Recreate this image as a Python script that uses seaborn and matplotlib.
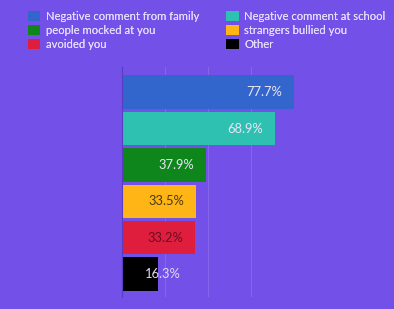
import matplotlib
matplotlib.use("Agg")
import matplotlib.pyplot as plt
import matplotlib.transforms as mtransforms
from matplotlib.patches import Patch
import seaborn as sns
import pandas as pd

categories = ["Negative comment from family", "Negative comment at school",
              "people mocked at you", "strangers bullied you", "avoided you", "Other"]
values = [77.7, 68.9, 37.9, 33.5, 33.2, 16.3]
labels = ["77.7%", "68.9%", "37.9%", "33.5%", "33.2%", "16.3%"]
colors = ["#3366CC", "#2EC1B2", "#0E861C", "#FFB515", "#DE1E3C", "#000000"]
label_colors = ["#E8E6F6", "#E8E6F6", "#E8E6F6", "#4A3A10", "#6A0E26", "#E0DCF2"]

BG = "#7350E8"

sns.set_theme(style="white")
plt.rcParams['font.family'] = ['Lato', 'DejaVu Sans']

df = pd.DataFrame({"category": categories, "value": values})

fig = plt.figure(figsize=(3.94, 3.09), dpi=100, facecolor=BG)
ax = fig.add_axes([0.309, 0.039, 0.438, 0.744])
ax.set_facecolor(BG)

sns.barplot(data=df, x="value", y="category", hue="category", palette=colors,
            order=categories, hue_order=categories, legend=False, width=0.92,
            saturation=1, ax=ax, orient="h", edgecolor="none", linewidth=0)

ax.set_xlim(0, 77.7)
ax.set_ylim(5.63, -0.69)
ax.set_xticks([77.7 / 4 * i for i in range(1, 5)])
ax.xaxis.grid(True, color="#8466EE", linewidth=0.8)
ax.set_axisbelow(True)
ax.set_xticklabels([])
ax.set_yticklabels([])
ax.tick_params(length=0)
ax.set_xlabel("")
ax.set_ylabel("")
for s in ["top", "right", "bottom"]:
    ax.spines[s].set_visible(False)
ax.spines["left"].set_color("#5A3CC0")
ax.spines["left"].set_linewidth(0.8)

for i, (v, lab, c) in enumerate(zip(values, labels, label_colors)):
    if v > 25:
        tr = mtransforms.offset_copy(ax.transData, fig=fig, x=-12, y=0, units="dots")
        ax.text(v, i, lab, ha="right", va="center", color=c, fontsize=9.3, transform=tr)
    else:
        tr = mtransforms.offset_copy(ax.transData, fig=fig, x=23.5, y=0, units="dots")
        ax.text(0, i, lab, ha="left", va="center", color=c, fontsize=9.3, transform=tr)

legend_text = "#E4DCFF"
left_idx = [0, 2, 4]
right_idx = [1, 3, 5]
for idx, xpos in [(left_idx, 0.071), (right_idx, 0.574)]:
    handles = [Patch(facecolor=colors[j], edgecolor="none", label=categories[j]) for j in idx]
    leg = fig.legend(handles=handles, loc="upper left", bbox_to_anchor=(xpos, 0.965),
                     frameon=False, fontsize=8.1, handlelength=1.1, handleheight=1.0,
                     handletextpad=0.5, labelspacing=0.28, borderpad=0, borderaxespad=0,
                     labelcolor=legend_text)
    fig.add_artist(leg)

fig.savefig("out.png", dpi=100, facecolor=BG)
